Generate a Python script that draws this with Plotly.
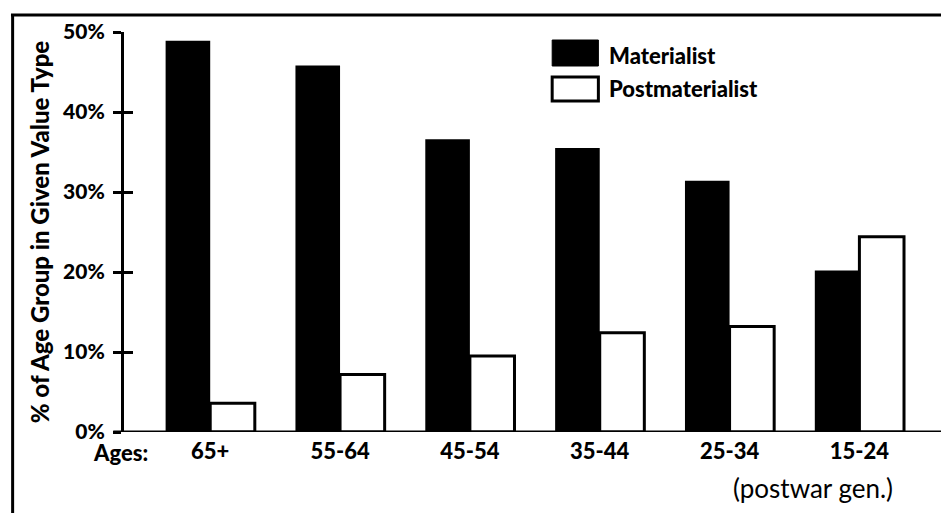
import plotly.graph_objects as go

categories = ["65+", "55-64", "45-54", "35-44", "25-34", "15-24"]
materialist = [48.9, 45.8, 36.6, 35.5, 31.4, 20.2]
postmaterialist = [3.6, 7.2, 9.5, 12.4, 13.2, 24.4]
y_ticks = [0, 10, 20, 30, 40, 50]
y_tick_labels = ["0%", "10%", "20%", "30%", "40%", "50%"]

FONT = "Lato"
fig = go.Figure()
fig.add_trace(go.Bar(name="Materialist", x=categories, y=materialist,
                     marker=dict(color="black", line=dict(color="black", width=0)),
                     showlegend=False))
fig.add_trace(go.Bar(name="Postmaterialist", x=categories, y=postmaterialist,
                     marker=dict(color="white", line=dict(color="black", width=3)),
                     showlegend=False))

fig.update_layout(
    width=941, height=505,
    margin=dict(l=116, r=0, t=24, b=81),
    paper_bgcolor="white", plot_bgcolor="white",
    barmode="group", bargap=0.313, bargroupgap=0,
    font=dict(family=FONT, color="black", size=21, weight=900),
    xaxis=dict(range=[-0.664, 5.69], showline=False, ticks="", showgrid=False,
               zeroline=False, tickfont=dict(size=22, weight=900),
               ticklabelstandoff=4),
    yaxis=dict(range=[0, 50], tickvals=y_ticks, ticktext=y_tick_labels,
               showline=True, linecolor="black", linewidth=3,
               ticks="outside", ticklen=8, tickwidth=3, tickcolor="black",
               showgrid=False, zeroline=False, ticklabelstandoff=4,
               tickfont=dict(size=21, weight=900),
               title=dict(text="% of Age Group in Given Value Type",
                          font=dict(size=24, weight=900), standoff=7)),
    yaxis2=dict(range=[0, 50], overlaying="y", tickvals=y_ticks,
                ticks="inside", ticklen=9, tickwidth=3, tickcolor="black",
                showticklabels=False, showgrid=False, zeroline=False,
                showline=False),
)
# invisible trace to activate the inner tick marks axis
fig.add_trace(go.Scatter(x=[categories[0]], y=[0], yaxis="y2", mode="markers",
                         marker=dict(opacity=0), showlegend=False, hoverinfo="skip"))

# baseline
fig.add_shape(type="line", xref="paper", yref="y", x0=-0.013, x1=1.0, y0=0, y1=0,
              line=dict(color="black", width=3))
# frame
fig.add_shape(type="line", xref="paper", yref="paper", x0=-0.135, x1=-0.135,
              y0=1.0425, y1=-0.25, line=dict(color="black", width=3))
fig.add_shape(type="line", xref="paper", yref="paper", x0=-0.137, x1=1.02,
              y0=1.0425, y1=1.0425, line=dict(color="black", width=3))

# legend
fig.add_shape(type="rect", xref="paper", yref="paper", x0=0.519, x1=0.575,
              y0=0.915, y1=0.98, fillcolor="black", line=dict(color="black", width=1))
fig.add_shape(type="rect", xref="paper", yref="paper", x0=0.519, x1=0.575,
              y0=0.8275, y1=0.8875, fillcolor="white", line=dict(color="black", width=3))
fig.add_annotation(xref="paper", yref="paper", x=0.585, y=0.9425, text="Materialist",
                   showarrow=False, xanchor="left", yanchor="middle",
                   font=dict(size=22, weight=900))
fig.add_annotation(xref="paper", yref="paper", x=0.585, y=0.8575, text="Postmaterialist",
                   showarrow=False, xanchor="left", yanchor="middle",
                   font=dict(size=22, weight=900))

fig.add_annotation(xref="paper", yref="paper", x=-0.004, y=-0.05, text="Ages:",
                   showarrow=False, xanchor="center", yanchor="middle",
                   font=dict(size=22, weight=900))
fig.add_annotation(xref="paper", yref="paper", x=0.835, y=-0.14, text="(postwar gen.)",
                   showarrow=False, xanchor="center", yanchor="middle",
                   font=dict(size=26, weight=400))

fig.write_html("out.html")
